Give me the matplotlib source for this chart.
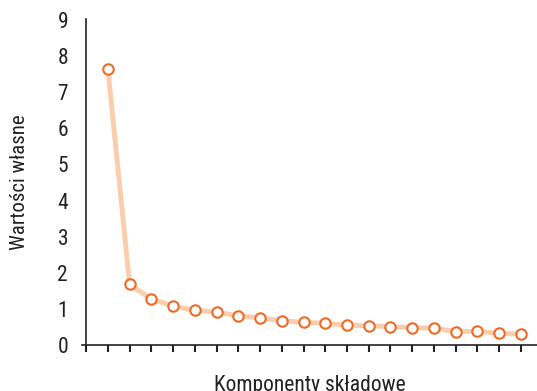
import matplotlib
matplotlib.use("Agg")
import matplotlib.pyplot as plt
import numpy as np

plt.rcParams['font.family'] = ['Roboto Condensed', 'DejaVu Sans']

# scree plot data
components = np.arange(1, 21)
eigenvalues = [7.65, 1.68, 1.27, 1.08, 0.96, 0.91, 0.81, 0.75, 0.67, 0.63,
               0.60, 0.55, 0.53, 0.51, 0.48, 0.47, 0.37, 0.38, 0.32, 0.31]
y_ticks = list(range(0, 10))

fig = plt.figure(figsize=(5.37, 3.91), dpi=100)
ax = fig.add_axes([82 / 537, 1 - 345 / 391, 1 - 82 / 537, (345 - 19) / 391])

ax.plot(components, eigenvalues, color='#fbcdaa', linewidth=3.5, solid_capstyle='round',
        zorder=2)
ax.plot(components, eigenvalues, linestyle='none', marker='o', markersize=7.5,
        markerfacecolor='white', markeredgecolor='#ee6a26', markeredgewidth=1.5,
        zorder=3)

ax.set_xlim(-0.19, 20.74)
ax.set_ylim(0, 9.03)
ax.spines['left'].set_position(('data', 0))
ax.spines['top'].set_visible(False)
ax.spines['right'].set_visible(False)
for s in ['left', 'bottom']:
    ax.spines[s].set_color('#222222')
    ax.spines[s].set_linewidth(1.2)

ax.set_xticks(np.arange(0, 21))
ax.set_xticklabels([])
ax.tick_params(axis='x', direction='out', length=5, width=1.5, color='#222222')
ax.set_yticks(y_ticks)
ax.tick_params(axis='y', length=0, pad=13, labelsize=15.5, labelcolor='#222222')

ax.set_ylabel('Wartości własne', fontsize=15, color='#222222')
ax.set_xlabel('Komponenty składowe', fontsize=15.5, color='#222222')
ax.yaxis.set_label_coords(-0.117, 0.5)
ax.xaxis.set_label_coords(0.5, -0.092)

fig.savefig('out.png', dpi=100)
